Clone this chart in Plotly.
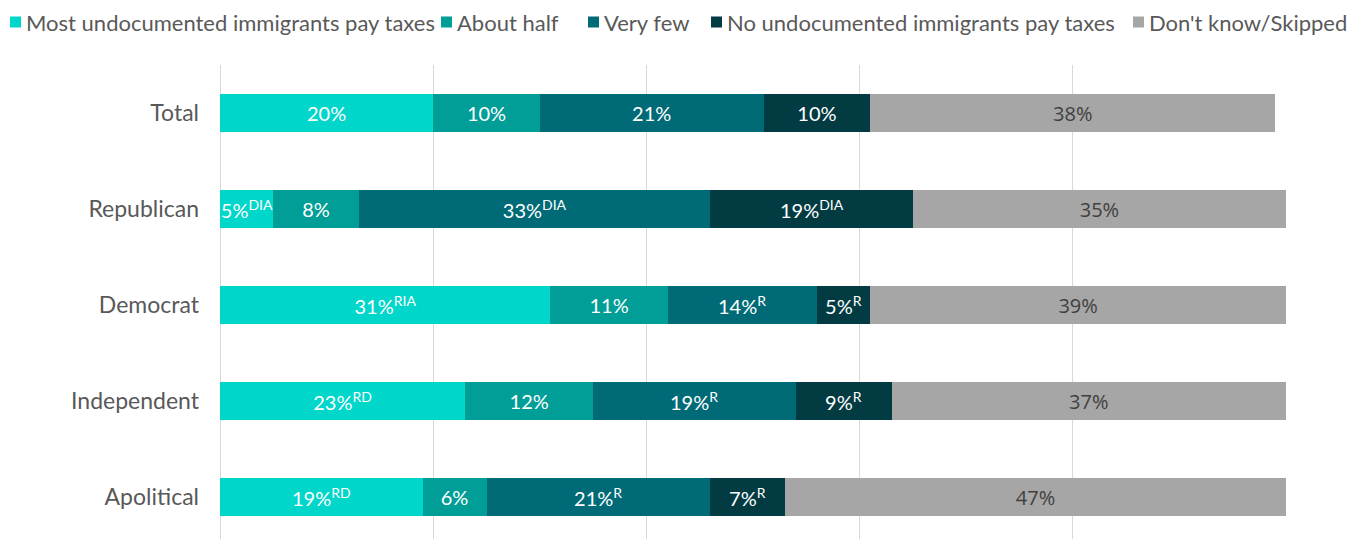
import plotly.graph_objects as go

# Survey groups, top to bottom
groups = ["Total", "Republican", "Democrat", "Independent", "Apolitical"]

# Response categories and their shares (%) per group
series_names = [
    "Most undocumented immigrants pay taxes",
    "About half",
    "Very few",
    "No undocumented immigrants pay taxes",
    "Don't know/Skipped",
]
most = [20, 5, 31, 23, 19]
about_half = [10, 8, 11, 12, 6]
very_few = [21, 33, 14, 19, 21]
none_pay = [10, 19, 5, 9, 7]
dont_know = [38, 35, 39, 37, 47]

# Significance markers shown after each value
most_sig = ["", "DIA", "RIA", "RD", "RD"]
about_half_sig = ["", "", "", "", ""]
very_few_sig = ["", "DIA", "R", "R", "R"]
none_pay_sig = ["", "DIA", "R", "R", "R"]
dont_know_sig = ["", "", "", "", ""]

colors = ["#00D6C9", "#009E97", "#006B76", "#023B42", "#A6A6A6"]
text_colors = ["#FFFFFF", "#FFFFFF", "#FFFFFF", "#FFFFFF", "#404040"]

values = [most, about_half, very_few, none_pay, dont_know]
sigs = [most_sig, about_half_sig, very_few_sig, none_pay_sig, dont_know_sig]

# Legend row layout (pixel offsets of each key square from the left edge)
legend_px = [10, 441, 588, 711, 1133]
legend_y_px = 22
PLOT_L, PLOT_R, PLOT_T, PLOT_B = 220, 1286, 65, 539
W, H = 1364, 539


def label(v, s):
    return f"{v}%" + (f"<sup>{s}</sup>" if s else "")


def px_to_paper_x(px):
    return (px - PLOT_L) / (PLOT_R - PLOT_L)


def px_to_paper_y(py):
    return (PLOT_B - py) / (PLOT_B - PLOT_T)


fig = go.Figure()
for name, vals, sg, col, tcol in zip(series_names, values, sigs, colors, text_colors):
    fig.add_trace(
        go.Bar(
            y=groups,
            x=vals,
            name=name,
            orientation="h",
            marker=dict(color=col, line=dict(width=0)),
            text=[label(v, s) for v, s in zip(vals, sg)],
            textposition="inside",
            insidetextanchor="middle",
            textangle=0,
            textfont=dict(
                color=tcol,
                size=21 if tcol == "#FFFFFF" else 20,
                family="Lato, sans-serif" if tcol == "#FFFFFF" else "Open Sans, sans-serif",
            ),
            cliponaxis=False,
            hoverinfo="skip",
            showlegend=False,
        )
    )

# Legend: colored key squares followed by their labels, in a single row
sq = 11
for name, col, lx in zip(series_names, colors, legend_px):
    fig.add_shape(
        type="rect",
        xref="paper",
        yref="paper",
        x0=px_to_paper_x(lx),
        x1=px_to_paper_x(lx + sq),
        y0=px_to_paper_y(legend_y_px + sq / 2),
        y1=px_to_paper_y(legend_y_px - sq / 2),
        fillcolor=col,
        line=dict(width=0),
    )
    fig.add_annotation(
        xref="paper",
        yref="paper",
        x=px_to_paper_x(lx + sq + 4),
        y=px_to_paper_y(legend_y_px),
        xanchor="left",
        yanchor="middle",
        text=name,
        showarrow=False,
        font=dict(size=22, color="#595959", family="Lato, sans-serif"),
        borderpad=0,
    )

fig.update_layout(
    barmode="stack",
    bargap=0.6,
    width=W,
    height=H,
    margin=dict(l=PLOT_L, r=W - PLOT_R, t=PLOT_T, b=H - PLOT_B),
    plot_bgcolor="white",
    paper_bgcolor="white",
    uniformtext=dict(minsize=20, mode="show"),
    font=dict(family="Lato, sans-serif", color="#595959"),
    showlegend=False,
    xaxis=dict(
        range=[0, 100],
        dtick=20,
        showticklabels=False,
        showgrid=True,
        gridcolor="#D9D9D9",
        gridwidth=1,
        zeroline=True,
        zerolinecolor="#D9D9D9",
        zerolinewidth=1,
        showline=False,
    ),
    yaxis=dict(
        categoryorder="array",
        categoryarray=groups,
        range=[4.4375, -0.5],
        showgrid=False,
        zeroline=False,
        showline=False,
        ticks="",
        ticklabelstandoff=20,
        tickfont=dict(size=23, color="#595959", family="Lato, sans-serif"),
    ),
)

fig.write_html("out.html")
